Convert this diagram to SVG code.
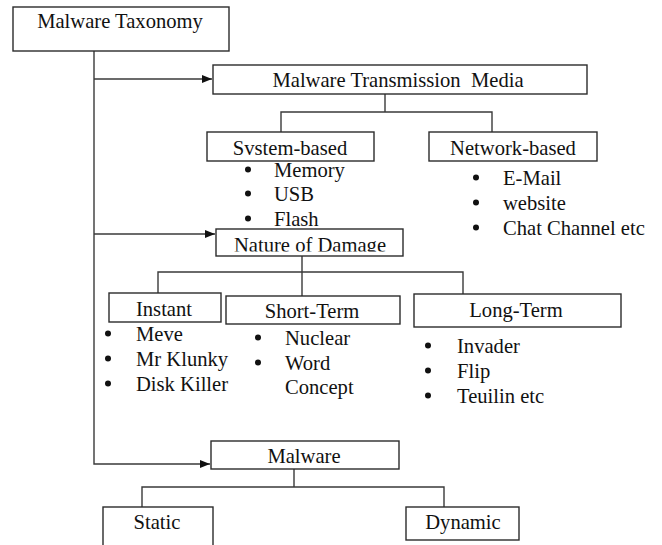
<svg xmlns="http://www.w3.org/2000/svg" width="662" height="545" viewBox="0 0 662 545">
<style>
.box{fill:#fff;stroke:#2b2b2b;stroke-width:1.4}
.con{fill:none;stroke:#3a3a3a;stroke-width:1.4}
.t{font-family:'Liberation Serif','DejaVu Serif',serif;font-size:20.6px;fill:#111}
.c{text-anchor:middle}
.b{fill:#111}
</style>
<defs>
<marker id="arr" markerUnits="userSpaceOnUse" markerWidth="10" markerHeight="8" refX="10" refY="4" orient="auto">
<path d="M0,0 L10,4 L0,8 z" fill="#111"/>
</marker>
<clipPath id="clipNature"><rect x="216" y="229" width="187" height="22.5"/></clipPath>
</defs>
<rect width="662" height="545" fill="#fff"/>
<g id="connectors">
<path class="con" d="M94 51 V464 H210" marker-end="url(#arr)"/>
<path class="con" d="M94 79 H212" marker-end="url(#arr)"/>
<path class="con" d="M94 234 H215" marker-end="url(#arr)"/>
<path class="con" d="M385 94 V112 M281 132 V112 H492 V132"/>
<path class="con" d="M302 256 V272 M158 293 V272 H463 V294 M302 272 V296"/>
<path class="con" d="M294 469 V487 M142 507 V487 H444 V507"/>
</g>
<g id="taxonomy"><rect class="box" x="13" y="7" width="216" height="44"/><text class="t c" x="120" y="28">Malware Taxonomy</text></g>
<g id="transmission"><rect class="box" x="213" y="65" width="374" height="29"/><text class="t c" x="398" y="87" style="white-space:pre">Malware Transmission  Media</text></g>
<g id="system"><rect class="box" x="207" y="132" width="167" height="29"/><text class="t c" x="290" y="155">Svstem-based</text>
<circle class="b" cx="248" cy="169.5" r="3"/><text class="t" x="274" y="177">Memory</text>
<circle class="b" cx="248" cy="193.5" r="3"/><text class="t" x="274" y="201">USB</text>
<circle class="b" cx="248" cy="218.5" r="3"/><text class="t" x="274" y="226">Flash</text></g>
<g id="network"><rect class="box" x="429" y="132" width="168" height="29"/><text class="t c" x="513" y="155">Network-based</text>
<circle class="b" cx="476" cy="177.5" r="3"/><text class="t" x="503" y="185">E-Mail</text>
<circle class="b" cx="476" cy="202.5" r="3"/><text class="t" x="503" y="210">website</text>
<circle class="b" cx="476" cy="227.5" r="3"/><text class="t" x="503" y="235">Chat Channel etc</text></g>
<g id="nature"><rect class="box" x="216" y="229" width="187" height="27"/><text class="t c" x="310" y="252" clip-path="url(#clipNature)">Nature of Damage</text></g>
<g id="instant"><rect class="box" x="109" y="293" width="112" height="29"/><text class="t c" x="164" y="316">Instant</text>
<circle class="b" cx="108" cy="333.5" r="3"/><text class="t" x="136" y="341">Meve</text>
<circle class="b" cx="108" cy="358.5" r="3"/><text class="t" x="136" y="366">Mr Klunky</text>
<circle class="b" cx="108" cy="383.5" r="3"/><text class="t" x="136" y="391">Disk Killer</text></g>
<g id="shortterm"><rect class="box" x="226" y="296" width="174" height="28"/><text class="t c" x="312" y="318">Short-Term</text>
<circle class="b" cx="258" cy="337.5" r="3"/><text class="t" x="285" y="345">Nuclear</text>
<circle class="b" cx="258" cy="362.5" r="3"/><text class="t" x="285" y="370">Word</text>
<text class="t" x="285" y="394">Concept</text></g>
<g id="longterm"><rect class="box" x="414" y="294" width="207" height="33"/><text class="t c" x="516" y="317">Long-Term</text>
<circle class="b" cx="428" cy="345.5" r="3"/><text class="t" x="457" y="353">Invader</text>
<circle class="b" cx="428" cy="370.5" r="3"/><text class="t" x="457" y="378">Flip</text>
<circle class="b" cx="428" cy="395.5" r="3"/><text class="t" x="457" y="403">Teuilin etc</text></g>
<g id="malware"><rect class="box" x="211" y="441" width="188" height="28"/><text class="t c" x="304" y="463">Malware</text></g>
<g id="static"><rect class="box" x="103" y="507" width="110" height="45"/><text class="t c" x="157" y="529">Static</text></g>
<g id="dynamic"><rect class="box" x="406" y="507" width="113" height="33"/><text class="t c" x="463" y="529">Dynamic</text></g>
</svg>
